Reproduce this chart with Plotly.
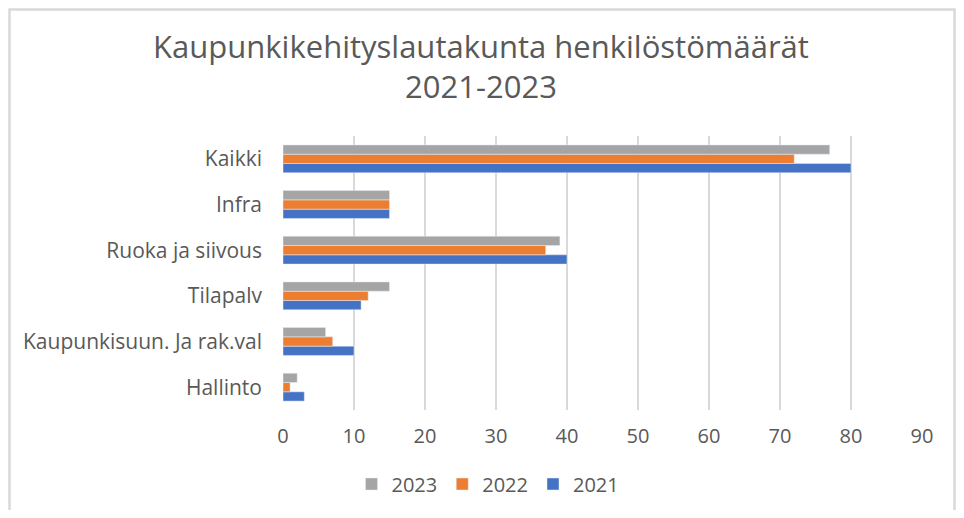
import plotly.graph_objects as go

categories = ["Hallinto", "Kaupunkisuun. Ja rak.val", "Tilapalv", "Ruoka ja siivous", "Infra", "Kaikki"]
v2021 = [3, 10, 11, 40, 15, 80]
v2022 = [1, 7, 12, 37, 15, 72]
v2023 = [2, 6, 15, 39, 15, 77]
x_ticks = [0, 10, 20, 30, 40, 50, 60, 70, 80, 90]

OFF = 8  # page body margin
W, H = 964 - 2 * OFF, 518 - 2 * OFF
# target page pixel positions of the plot area
PL, PR, PT, PB = 283, 922, 136, 410
L, T = PL - OFF, PT - OFF
R = W - (PR - OFF)
B = H - (PB - OFF)
pw, ph = W - L - R, H - T - B

def fx(f):
    return (f - L) / pw

def fy(f):
    return (H - B - f) / ph

def px_x(p):
    return fx(p - OFF)

def px_y(p):
    return fy(p - OFF)

fig = go.Figure()
fig.add_trace(go.Bar(name="2021", y=categories, x=v2021, orientation="h", marker_color="#4472C4"))
fig.add_trace(go.Bar(name="2022", y=categories, x=v2022, orientation="h", marker_color="#ED7D31"))
fig.add_trace(go.Bar(name="2023", y=categories, x=v2023, orientation="h", marker_color="#A5A5A5"))

font = "Open Sans"
fig.update_layout(
    width=W, height=H,
    margin=dict(l=L, r=R, t=T, b=B, autoexpand=False),
    paper_bgcolor="white", plot_bgcolor="white",
    barmode="group", bargap=0.39, bargroupgap=0,
    title=dict(text="Kaupunkikehityslautakunta henkilöstömäärät<br>2021-2023",
               x=px_x(481), xref="paper", xanchor="center", y=1 - (58 - OFF) / H, yanchor="middle",
               font=dict(family=font, size=31, color="#595959")),
    legend=dict(orientation="h", traceorder="reversed", x=px_x(488), xanchor="center",
                y=px_y(484), yanchor="middle",
                font=dict(family=font, size=20, color="#595959"), itemwidth=30),
    xaxis=dict(range=[0, 90], tickvals=x_ticks, showgrid=True, gridcolor="#D9D9D9", gridwidth=2,
               zeroline=False, showline=False, ticks="", ticklabelstandoff=12, automargin=False,
               tickfont=dict(family=font, size=20, color="#595959"), fixedrange=True),
    yaxis=dict(categoryorder="array", categoryarray=categories, showgrid=False, showline=False,
               zeroline=False, ticks="", ticklabelstandoff=20, automargin=False,
               tickfont=dict(family=font, size=21, color="#595959")),
    shapes=[dict(type="rect", xref="paper", yref="paper",
                 x0=fx(1.5), x1=fx(W - 1.5), y0=fy(H + 20), y1=fy(1.5),
                 line=dict(color="#D9D9D9", width=2.5), layer="below")],
)
fig.write_html("out.html")
